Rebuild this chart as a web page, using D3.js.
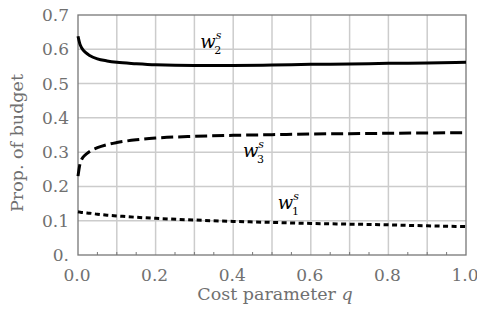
<!DOCTYPE html>
<html>
<head>
<meta charset="utf-8">
<script src="https://cdn.jsdelivr.net/npm/d3@7"></script>
<style>
  body { margin: 0; background: #fff; }
  text { font-family: "DejaVu Serif", serif; }
</style>
</head>
<body>
<div id="chart"></div>
<script>
// Chart dimensions
const width = 477;
const height = 320;
const margin = { top: 15, right: 11, bottom: 65, left: 78 };

// Data
const qValues = [0, 0.005, 0.01, 0.02, 0.03, 0.05, 0.075, 0.1, 0.15, 0.2, 0.3, 0.4, 0.5, 0.6, 0.7, 0.8, 0.9, 1.0];
const w2Values = [0.638, 0.615, 0.603, 0.590, 0.582, 0.572, 0.566, 0.562, 0.558, 0.555, 0.553, 0.553, 0.554, 0.556, 0.557, 0.559, 0.560, 0.562];
const w3Values = [0.230, 0.265, 0.280, 0.293, 0.302, 0.313, 0.322, 0.328, 0.336, 0.341, 0.346, 0.349, 0.351, 0.353, 0.354, 0.355, 0.356, 0.357];
const w1Values = [0.126, 0.125, 0.124, 0.123, 0.122, 0.119, 0.116, 0.114, 0.110, 0.107, 0.102, 0.098, 0.095, 0.092, 0.090, 0.088, 0.085, 0.083];

const xTicks = [0, 0.2, 0.4, 0.6, 0.8, 1.0];
const xMinorTicks = [0.05, 0.1, 0.15, 0.25, 0.3, 0.35, 0.45, 0.5, 0.55, 0.65, 0.7, 0.75, 0.85, 0.9, 0.95];
const xGrid = [0.1, 0.2, 0.3, 0.4, 0.5, 0.6, 0.7, 0.8, 0.9];
const yTicks = [0, 0.1, 0.2, 0.3, 0.4, 0.5, 0.6, 0.7];
const yTickLabels = ["0.", "0.1", "0.2", "0.3", "0.4", "0.5", "0.6", "0.7"];

const series = [
    { name: "w1", sub: "1", values: w1Values, dash: "5,3.5", labelQ: 0.515, labelV: 0.135 },
    { name: "w2", sub: "2", values: w2Values, dash: null, labelQ: 0.315, labelV: 0.605 },
    { name: "w3", sub: "3", values: w3Values, dash: "12,5", labelQ: 0.425, labelV: 0.285 }
];

const svg = d3.select("#chart")
    .append("svg")
    .attr("width", width)
    .attr("height", height);

// Scales
const xScale = d3.scaleLinear()
    .domain([0, 1])
    .range([margin.left, width - margin.right]);

const yScale = d3.scaleLinear()
    .domain([0, 0.7])
    .range([height - margin.bottom, margin.top]);

// Grid lines
svg.append("g")
    .selectAll("line")
    .data(xGrid)
    .enter()
    .append("line")
    .attr("x1", d => xScale(d))
    .attr("x2", d => xScale(d))
    .attr("y1", yScale(0))
    .attr("y2", yScale(0.7))
    .attr("stroke", "#cccccc")
    .attr("stroke-width", 1.5);

svg.append("g")
    .selectAll("line")
    .data(yTicks.slice(1, -1))
    .enter()
    .append("line")
    .attr("x1", xScale(0))
    .attr("x2", xScale(1))
    .attr("y1", d => yScale(d))
    .attr("y2", d => yScale(d))
    .attr("stroke", "#cccccc")
    .attr("stroke-width", 1.5);

// Frame
svg.append("rect")
    .attr("x", xScale(0))
    .attr("y", yScale(0.7))
    .attr("width", xScale(1) - xScale(0))
    .attr("height", yScale(0) - yScale(0.7))
    .attr("fill", "none")
    .attr("stroke", "#777777")
    .attr("stroke-width", 1.3);

// Minor ticks on bottom axis
svg.append("g")
    .selectAll("line")
    .data(xMinorTicks)
    .enter()
    .append("line")
    .attr("x1", d => xScale(d))
    .attr("x2", d => xScale(d))
    .attr("y1", yScale(0))
    .attr("y2", yScale(0) - 3)
    .attr("stroke", "#777777")
    .attr("stroke-width", 1);

// Axis tick labels
svg.append("g")
    .selectAll("text")
    .data(xTicks)
    .enter()
    .append("text")
    .attr("x", d => xScale(d) - 1)
    .attr("y", yScale(0) + 26)
    .attr("text-anchor", "middle")
    .attr("font-size", 17)
    .attr("fill", "#707070")
    .text(d => d.toFixed(1));

svg.append("g")
    .selectAll("text")
    .data(yTicks)
    .enter()
    .append("text")
    .attr("x", xScale(0) - 9)
    .attr("y", d => yScale(d) + 6)
    .attr("text-anchor", "end")
    .attr("font-size", 17)
    .attr("fill", "#707070")
    .text((d, i) => yTickLabels[i]);

// Lines
const line = d3.line()
    .x((d, i) => xScale(qValues[i]))
    .y(d => yScale(d))
    .curve(d3.curveMonotoneX);

series.forEach(s => {
    svg.append("path")
        .datum(s.values)
        .attr("fill", "none")
        .attr("stroke", "#000")
        .attr("stroke-width", 3)
        .attr("stroke-dasharray", s.dash)
        .attr("d", line);

    const lbl = svg.append("text")
        .attr("x", xScale(s.labelQ))
        .attr("y", yScale(s.labelV))
        .attr("font-size", 18)
        .attr("fill", "#000");
    lbl.append("tspan").attr("font-style", "italic").text("w");
    lbl.append("tspan").attr("font-style", "italic").attr("font-size", 11).attr("dy", -9).text("s");
    lbl.append("tspan").attr("font-size", 11).attr("dx", -7).attr("dy", 15).text(s.sub);
});

// Axis titles
svg.append("text")
    .attr("x", 275)
    .attr("y", 300)
    .attr("text-anchor", "middle")
    .attr("font-size", 17.5)
    .attr("fill", "#707070")
    .html("Cost parameter <tspan font-style='italic'>q</tspan>");

svg.append("text")
    .attr("x", -143)
    .attr("y", 23)
    .attr("transform", "rotate(-90)")
    .attr("text-anchor", "middle")
    .attr("font-size", 17.5)
    .attr("fill", "#707070")
    .text("Prop. of budget");
</script>
</body>
</html>
